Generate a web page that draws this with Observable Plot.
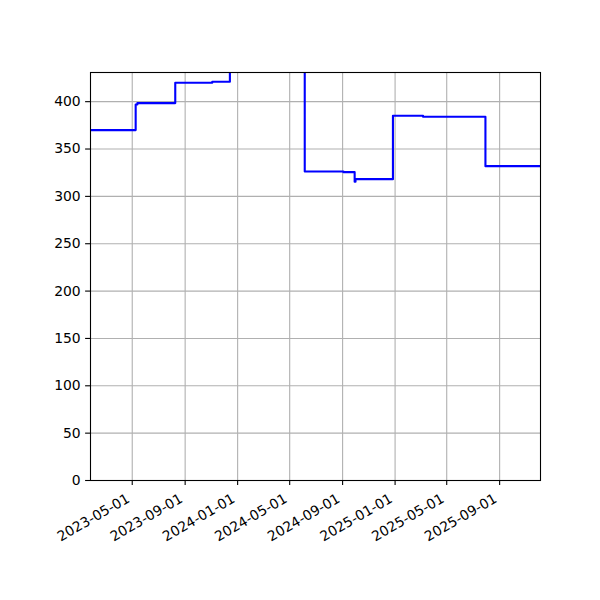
<!DOCTYPE html>
<html>
<head>
<meta charset="utf-8">
<script src="https://cdn.jsdelivr.net/npm/d3@7"></script>
<script src="https://cdn.jsdelivr.net/npm/@observablehq/plot@0.6"></script>
<style>
  html, body { margin: 0; padding: 0; background: #fff; }
</style>
</head>
<body>
<div id="chart"></div>
<script>
// Step-series data (value holds from each date until the next)
const dates = ["2023-01-24", "2023-05-09", "2023-05-13", "2023-08-09", "2023-11-03", "2023-12-14",
               "2024-06-05", "2024-09-03", "2024-09-29", "2024-10-01", "2024-12-27", "2025-03-07",
               "2025-07-30", "2025-12-05"];
const values = [370, 397, 398.5, 420, 421, 480, 326.3, 325.6, 315.5, 318.2, 385.1, 384, 331.9, 331.9];
const xTickLabels = ["2023-05-01", "2023-09-01", "2024-01-01", "2024-05-01", "2024-09-01", "2025-01-01", "2025-05-01", "2025-09-01"];
const yTicks = [0, 50, 100, 150, 200, 250, 300, 350, 400];
const xDomain = ["2023-01-24", "2025-12-05"];
const yDomain = [0, 430.8];

const parse = d3.utcParse("%Y-%m-%d");
const data = dates.map((d, i) => ({date: parse(d), value: values[i]}));
const xTicks = xTickLabels.map(parse);
const fmt = d3.utcFormat("%Y-%m-%d");

const fs = 13.9;
const chart = Plot.plot({
  width: 600,
  height: 600,
  marginLeft: 90,
  marginRight: 60,
  marginTop: 72,
  marginBottom: 120,
  style: {fontFamily: "DejaVu Sans", fontSize: fs + "px", color: "black", background: "white"},
  x: {type: "utc", domain: xDomain.map(parse)},
  y: {domain: yDomain},
  marks: [
    Plot.gridX(xTicks, {stroke: "#b0b0b0", strokeOpacity: 1, strokeWidth: 1.1}),
    Plot.gridY(yTicks, {stroke: "#b0b0b0", strokeOpacity: 1, strokeWidth: 1.1}),
    Plot.lineY(data, {x: "date", y: "value", curve: "step-after", stroke: "#0000ff", strokeWidth: 2.1, clip: true}),
    Plot.frame({stroke: "black", strokeWidth: 1.1}),
    Plot.axisY(yTicks, {tickSize: 4.9, tickPadding: 4.9, strokeWidth: 1.1, fontSize: fs, label: null, tickFormat: d => String(d)}),
    Plot.axisX(xTicks, {tickSize: 4.9, strokeWidth: 1.1, text: null, label: null}),
    Plot.text(xTicks, {x: d => d, frameAnchor: "bottom", text: d => fmt(d), rotate: -30, textAnchor: "end", lineAnchor: "bottom", dx: -1.6, dy: 20.8, fontSize: fs, fill: "black"})
  ]
});
document.getElementById("chart").append(chart);
</script>
</body>
</html>
